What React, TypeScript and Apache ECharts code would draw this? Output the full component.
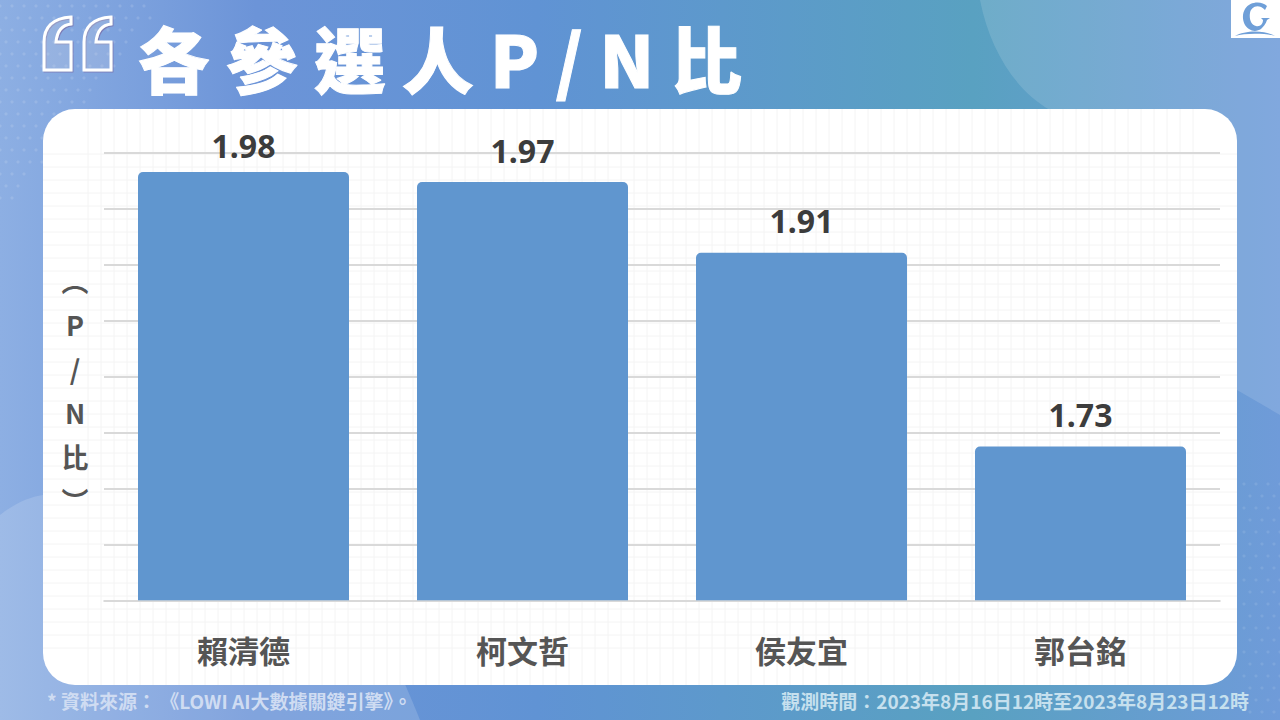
import { useEffect, useRef } from "react"
import * as echarts from "echarts"

const categories = ["賴清德", "柯文哲", "侯友宜", "郭台銘"]
const barLabels = ["1.98", "1.97", "1.91", "1.73"]
// bar heights as measured in the picture, the printed labels are rounded
const barValues = [1.983, 1.974, 1.911, 1.738]

const title = "各 參 選 人 P / N 比"
const yName = "︵\nP\n/\nN\n比\n︶"
const sourceNote = "* 資料來源： 《LOWI AI大數據關鍵引擎》。"
const timeNote = "觀測時間：2023年8月16日12時至2023年8月23日12時"

const CJK = '"Noto Sans CJK TC", "Noto Sans", sans-serif'

// 背景裝飾
function cardGridPath() {
    let d = ""
    for (let y = 115; y < 685; y += 13) {
        if (y > 141 && y < 653) d += `M43 ${y}H1237`
    }
    for (let x = 49; x < 1237; x += 13) {
        if (x > 75 && x < 1205) d += `M${x} 109V685`
    }
    return d
}

function dotElements() {
    const dots: any[] = []
    for (let row = 0; row < 17; row++) {
        for (let col = 0; col < 13; col++) {
            const cx = col * 12 + (row % 2 ? 6 : 0)
            const cy = row * 12 + 6
            if (cx + cy * 0.75 > 165) continue
            dots.push({ type: "circle", shape: { cx, cy, r: 1.6 }, style: { fill: "rgba(255,255,255,0.13)" } })
        }
    }
    for (let row = 0; row < 21; row++) {
        for (let col = 0; col < 4; col++) {
            const cx = 1244 + col * 12 + (row % 2 ? 6 : 0)
            const cy = 484 + row * 12
            dots.push({ type: "circle", shape: { cx, cy, r: 1.6 }, style: { fill: "rgba(255,255,255,0.1)" } })
        }
    }
    return dots
}

export default function App() {
    const chartRef = useRef<HTMLDivElement>(null)

    useEffect(() => {
        if (!chartRef.current) return

        const { registerShape, extendPath } = echarts.graphic as any
        registerShape("cardGrid", extendPath(cardGridPath(), {}))
        registerShape(
            "blobTop",
            extendPath("M980 0C990 50 1015 90 1050 110L1237 390L1280 415V0Z", {})
        )
        registerShape(
            "blobBottom",
            extendPath("M0 515C15 503 30 497 43 495L300 500C360 580 400 670 420 720H0Z", {})
        )
        registerShape(
            "quotes",
            extendPath(
                "M44 70V42C44 28 52 18 71 17V24C62 25 57 31 56 42H71V70Z" +
                    "M84 70V42C84 28 92 18 111 17V24C102 25 97 31 96 42H111V70Z",
                {}
            )
        )
        registerShape(
            "logoMark",
            extendPath(
                "M1267 6C1262 1 1250 1 1245 9C1241 16 1243 25 1249 29C1253 32 1258 31 1261 29" +
                    "C1263 27 1266 24 1267 20L1270 18H1261L1263 20C1263 24 1260 27 1256 26" +
                    "C1251 25 1249 19 1250 13C1251 7 1258 3 1265 10Z" +
                    "M1235 36C1245 30 1265 30 1275 36C1265 33 1245 33 1235 36Z",
                {}
            )
        )

        const chart = echarts.init(chartRef.current, null, { renderer: "svg" })

        const option: any = {
            animation: false,
            backgroundColor: {
                type: "linear",
                x: 0,
                y: 0,
                x2: 1,
                y2: 0,
                colorStops: [
                    { offset: 0, color: "#8dafe3" },
                    { offset: 0.2, color: "#6c94d8" },
                    { offset: 0.42, color: "#6093d4" },
                    { offset: 0.76, color: "#59a1c1" },
                    { offset: 1, color: "#6f9bd9" },
                ],
            },
            graphic: {
                elements: [
                    { type: "blobTop", style: { fill: "rgba(255,255,255,0.13)" } },
                    { type: "blobBottom", style: { fill: "rgba(255,255,255,0.15)" } },
                    ...dotElements(),
                    {
                        type: "rect",
                        shape: { x: 43, y: 109, width: 1194, height: 576, r: 32 },
                        style: { fill: "#ffffff" },
                    },
                    {
                        type: "cardGrid",
                        style: { fill: "none", stroke: "#f4f4f4", lineWidth: 1 },
                    },
                    {
                        type: "quotes",
                        style: {
                            fill: "rgba(255,255,255,0.12)",
                            stroke: "#ffffff",
                            lineWidth: 3,
                            shadowColor: "rgba(120,90,150,0.55)",
                            shadowBlur: 1,
                            shadowOffsetX: 1,
                            shadowOffsetY: 1,
                        },
                    },
                    {
                        type: "text",
                        x: 138,
                        y: 57,
                        style: {
                            text: title,
                            fill: "#ffffff",
                            stroke: "#ffffff",
                            lineWidth: 1,
                            font: `900 71.6px ${CJK}`,
                            verticalAlign: "middle",
                            shadowColor: "#9a7fb0",
                            shadowBlur: 1,
                            shadowOffsetX: 2,
                            shadowOffsetY: 2,
                        },
                    },
                    {
                        type: "rect",
                        shape: { x: 1231, y: 0, width: 49, height: 38 },
                        style: { fill: "#ffffff" },
                    },
                    { type: "logoMark", style: { fill: "#6f9fd8" } },
                    // 縱軸名稱，比軸的中點低一些，所以不用 yAxis.name
                    {
                        type: "text",
                        x: 75,
                        y: 390,
                        style: {
                            text: yName,
                            fill: "#555555",
                            font: `700 27px ${CJK}`,
                            lineHeight: 44,
                            align: "center",
                            verticalAlign: "middle",
                        },
                    },
                    {
                        type: "text",
                        x: 47,
                        y: 700,
                        style: {
                            text: sourceNote,
                            fill: "#cfdcf2",
                            font: `700 19px ${CJK}`,
                            verticalAlign: "middle",
                        },
                    },
                    {
                        type: "text",
                        x: 1249,
                        y: 700,
                        style: {
                            text: timeNote,
                            fill: "#c6e0ee",
                            font: `700 19px ${CJK}`,
                            align: "right",
                            verticalAlign: "middle",
                        },
                    },
                ],
            },
            grid: { left: 104, right: 60, top: 153, bottom: 119 },
            xAxis: {
                type: "category",
                data: categories,
                z: 3,
                axisTick: { show: false },
                axisLine: { lineStyle: { color: "rgba(217,217,217,0.7)", width: 2 } },
                axisLabel: {
                    color: "#555555",
                    fontFamily: CJK,
                    fontSize: 31,
                    fontWeight: 700,
                    margin: 33,
                },
            },
            yAxis: {
                type: "value",
                min: 1.6,
                max: 2.0,
                interval: 0.05,
                z: 1,
                axisLabel: { show: false },
                axisLine: { show: false },
                axisTick: { show: false },
                splitLine: { lineStyle: { color: "#d9d9d9", width: 2 } },
            },
            series: [
                {
                    type: "bar",
                    data: barValues.map((value, i) => ({
                        value,
                        label: { distance: i === 0 ? 11 : 16 },
                    })),
                    barWidth: 211,
                    itemStyle: { color: "#6096cf", borderRadius: [5, 5, 0, 0] },
                    label: {
                        show: true,
                        position: "top",
                        formatter: (p: any) => barLabels[p.dataIndex],
                        color: "#3c3c3c",
                        fontFamily: '"Noto Sans", sans-serif',
                        fontSize: 32,
                        fontWeight: 700,
                    },
                },
            ],
        }

        chart.setOption(option)

        return () => {
            chart.dispose()
        }
    }, [])

    return <div ref={chartRef} style={{ position: "fixed", left: 0, top: 0, width: 1280, height: 720 }} />
}
